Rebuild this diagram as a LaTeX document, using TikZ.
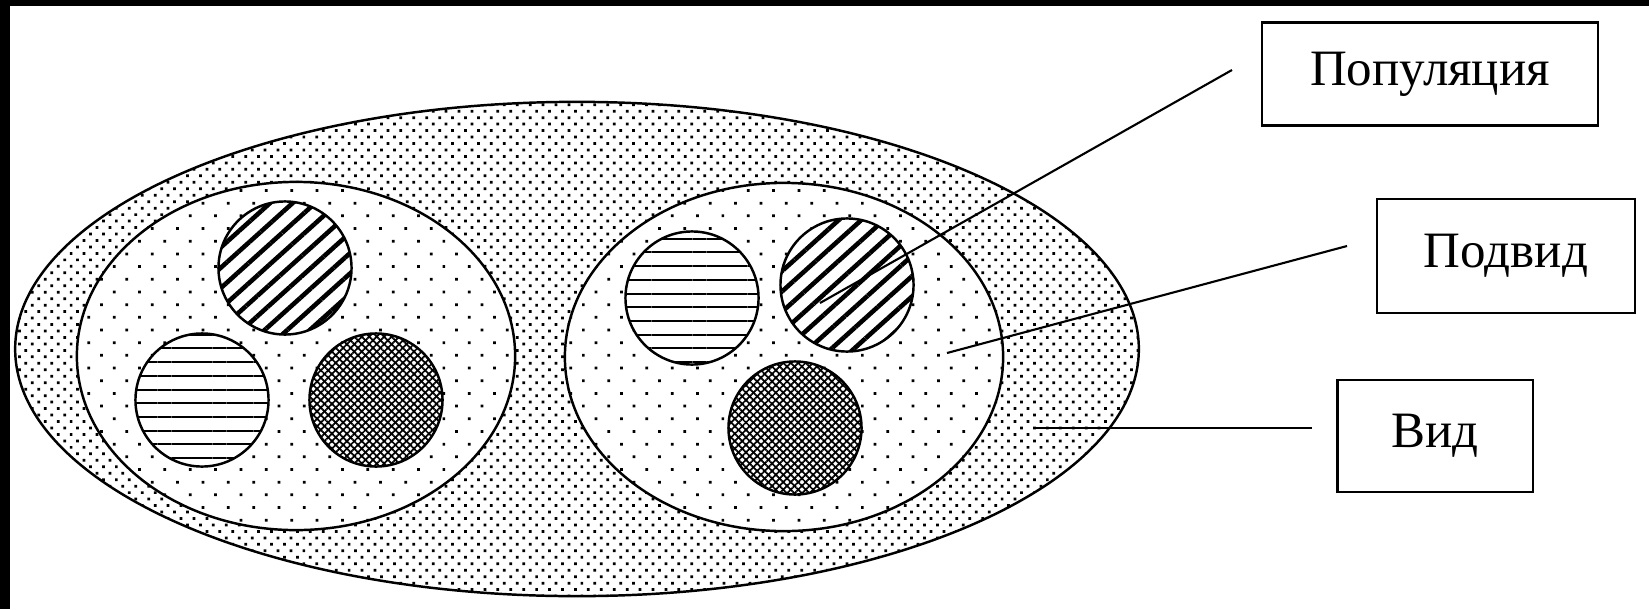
\documentclass[tikz,border=0pt]{standalone}
\usepackage{fontspec}
\setmainfont{Liberation Serif}
\usetikzlibrary{patterns.meta,shapes.geometric,positioning}

\begin{document}
\begin{tikzpicture}[
  x=0.01cm, y=-0.01cm,
  font=\fontsize{14.5}{17}\selectfont,
  vidzone/.style={ellipse, draw=black, line width=0.7pt, inner sep=0pt,
                  preaction={fill=white},
                  pattern={Dots[radius=0.55pt, distance=2.6pt, angle=45]}},
  subzone/.style={ellipse, draw=black, line width=0.7pt, inner sep=0pt,
                  minimum width=4.38cm, minimum height=3.48cm,
                  preaction={fill=white},
                  pattern={Dots[radius=0.55pt, distance=5.1pt, angle=45]}},
  popbase/.style={circle, draw=black, line width=0.7pt, inner sep=0pt,
                  minimum size=1.33cm, preaction={fill=white}},
  popdiag/.style={popbase,
                  pattern={Lines[angle=42, distance=4.3pt, line width=1.3pt]}},
  pophor/.style={popbase,
                 pattern={Lines[angle=0, distance=3.9pt, line width=0.6pt]}},
  popcross/.style={popbase,
                   preaction={pattern={Lines[angle=45, distance=1.5pt, line width=0.5pt]}},
                   pattern={Lines[angle=-45, distance=1.5pt, line width=0.5pt]}},
  tagbox/.style={draw=black, line width=0.6pt, inner sep=0pt, align=center},
  leader/.style={line width=0.6pt},
]
\useasboundingbox (0,0) rectangle (1649,609);
% ---- scan edges ----
\fill[black] (0,0) rectangle (1649,6);
\fill[black] (0,0) rectangle (10,609);

% ---- species and subspecies ----
\node[vidzone, minimum width=11.23cm, minimum height=4.94cm] (vid) at (577,349) {};
\node[subzone] (subL) at (296,356) {};
\node[subzone] (subR) at (784,357) {};

% ---- populations, left subspecies ----
\node[popdiag]  (popLa) at (285,268) {};
\node[pophor]   (popLb) at (202,400) {};
\node[popcross] (popLc) at (376,400) {};

% ---- populations, right subspecies ----
\node[pophor]   (popRa) at (692,298) {};
\node[popdiag]  (popRb) at (847,285) {};
\node[popcross] (popRc) at (795,428) {};

% ---- labels ----
\node[tagbox, minimum width=3.36cm, minimum height=1.03cm] (popul)  at (1430,74)  {Популяция};
\node[tagbox, minimum width=2.58cm, minimum height=1.14cm] (podvid) at (1506,256) {Подвид};
\node[tagbox, minimum width=1.95cm, minimum height=1.12cm] (vidbox) at (1435,436) {Вид};

% ---- leaders ----
\coordinate (populin)  at (820,303);
\coordinate (populend) at (1232,70);
\coordinate (podin)    at (947,353);
\coordinate (podend)   at (1347,246);
\coordinate (vidin)    at (1033,428);
\coordinate (vidend)   at (1312,428);
\draw[leader] (populin) -- (populend);
\draw[leader] (podin)   -- (podend);
\draw[leader] (vidin)   -- (vidend);

\end{tikzpicture}
\end{document}
